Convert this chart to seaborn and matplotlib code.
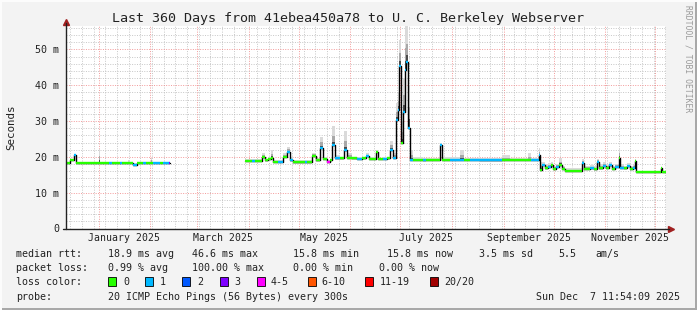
import numpy as np
import pandas as pd
import matplotlib
matplotlib.use("Agg")
import matplotlib.pyplot as plt
import matplotlib.dates as mdates
import matplotlib.transforms as mtrans
from matplotlib.patches import Rectangle
import seaborn as sns

# ---------------- data ----------------
START = pd.Timestamp("2024-12-12 11:54:09")
END = pd.Timestamp("2025-12-07 11:54:09")

# segment 1 (Dec 2024 - Feb 2025): days since START, median rtt (ms), loss class, smoke top (ms)
seg1_day = [0.0, 2.4, 4.8, 6.0, 19.8, 20.4, 25.8, 27.6, 32.4, 33.6, 37.2, 38.4, 40.2,
            42.6, 46.2, 48.0, 51.0, 51.6, 52.2, 56.4, 58.2, 61.8, 62.4]
seg1_median = [18.3, 19.1, 20.5, 18.3, 18.3, 18.3, 18.3, 18.3, 18.3, 18.3, 18.3, 18.3, 17.8,
               18.3, 18.3, 18.3, 18.3, 18.3, 18.3, 18.3, 18.3, 18.3, 18.3]
seg1_loss = [0, 0, 1, 0, 0, 0, 1, 0, 1, 0, 0, 0, 1,
             0, 1, 0, 0, 0, 1, 0, 1, 3, 3]
seg1_smoke = [18.7, 19.4, 20.8, 18.7, 22.1, 18.7, 18.7, 18.7, 18.7, 18.7, 19.0, 18.7, 18.2,
              18.7, 18.7, 18.7, 19.8, 18.7, 18.7, 18.7, 18.7, 18.7, 18.7]

# segment 2 (end of March 2025 - Dec 2025)
seg2_day = [107.4, 111.6, 113.4, 117.6, 119.4, 121.2, 123.0, 124.2, 127.2, 130.2, 132.6,
            134.4, 136.2, 143.4, 144.6, 147.6, 150.0, 152.4, 154.2, 156.6, 158.4, 159.6,
            161.4, 164.4, 166.8, 168.6, 171.6, 174.6, 177.6, 180.0, 181.8, 186.0, 187.2,
            190.2, 192.6, 194.4, 196.2, 198.0, 199.2, 199.8, 201.0, 202.2, 203.4, 204.0,
            205.2, 206.4, 208.2, 214.2, 216.0, 224.4, 225.6, 230.4, 236.4, 238.8, 242.4,
            248.4, 261.6, 266.4, 277.2, 279.0, 283.8, 284.4, 285.6, 287.4, 289.2, 291.0,
            292.2, 294.0, 295.8, 297.6, 299.4, 309.6, 310.8, 314.4, 316.8, 318.6, 319.8,
            322.2, 324.0, 325.8, 327.6, 329.4, 331.8, 332.4, 334.8, 336.6, 338.4, 340.2,
            341.4, 342.0, 357.0, 357.6, 360.0]
seg2_median = [18.8, 18.9, 18.8, 19.9, 19.0, 19.4, 19.7, 18.6, 18.6, 20.0, 21.5,
               19.0, 18.5, 18.5, 18.5, 20.3, 19.0, 22.5, 19.5, 18.6, 19.0, 23.2,
               19.6, 19.6, 21.8, 19.8, 19.6, 19.5, 19.6, 20.2, 19.5, 21.5, 19.4,
               19.4, 19.6, 22.0, 19.8, 30.3, 33.1, 45.4, 23.9, 32.6, 44.3, 46.6,
               28.1, 19.2, 19.1, 19.0, 19.1, 23.3, 19.1, 19.1, 19.1, 19.1, 19.1,
               19.0, 19.1, 19.1, 19.1, 19.1, 20.5, 16.4, 17.8, 16.8, 17.2, 17.6,
               16.6, 17.3, 17.8, 16.6, 16.1, 18.3, 16.6, 16.8, 16.5, 18.7, 16.8,
               17.5, 16.9, 17.6, 16.6, 17.2, 19.6, 17.0, 16.8, 17.4, 16.7, 17.0,
               18.9, 15.8, 16.9, 15.8, 15.8]
seg2_loss = [0, 1, 0, 0, 0, 0, 0, 0, 1, 0, 1,
             1, 0, 1, 0, 0, 0, 1, 0, 4, 0, 1,
             1, 0, 1, 0, 0, 1, 0, 1, 0, 0, 0,
             1, 0, 1, 1, 1, 1, 1, 0, 1, 1, 1,
             1, 1, 0, 1, 0, 1, 0, 1, 1, 0, 1,
             1, 0, 0, 0, 1, 1, 0, 1, 0, 1, 0,
             0, 1, 0, 0, 0, 1, 0, 1, 0, 1, 0,
             1, 0, 1, 0, 1, 0, 1, 0, 1, 0, 1,
             0, 0, 0, 0, 0]
seg2_smoke = [19.3, 19.4, 19.3, 21.0, 19.5, 20.0, 22.0, 19.0, 19.0, 21.0, 22.8,
              20.0, 19.0, 19.0, 19.0, 21.2, 19.6, 25.6, 20.0, 19.0, 19.5, 28.7,
              20.5, 20.0, 27.3, 21.0, 20.0, 20.0, 20.0, 21.0, 20.0, 22.0, 19.8,
              20.0, 20.0, 24.5, 21.0, 35.0, 38.0, 52.7, 30.0, 42.0, 56.5, 56.5,
              40.0, 22.0, 20.0, 19.8, 19.8, 24.0, 20.0, 20.0, 22.0, 19.8, 19.8,
              19.8, 20.5, 19.8, 21.0, 19.8, 22.4, 18.5, 18.5, 18.0, 18.3, 18.5,
              17.5, 18.0, 19.6, 17.5, 16.8, 19.5, 17.5, 17.8, 17.5, 19.5, 18.0,
              18.5, 18.0, 18.5, 17.5, 18.0, 22.4, 18.0, 17.5, 18.2, 17.5, 17.8,
              19.5, 16.2, 17.2, 16.2, 16.2]

loss_labels = ["0", "1", "2", "3", "4-5", "6-10", "11-19", "20/20"]
loss_colors = ["#26ff00", "#00b8ff", "#0059ff", "#7e00ff", "#ff00ff", "#ff5500", "#ff0000", "#a10000"]

y_ticks = [0, 10, 20, 30, 40, 50]
y_tick_labels = ["0", "10 m", "20 m", "30 m", "40 m", "50 m"]
x_label_months = ["2025-01-01", "2025-03-01", "2025-05-01", "2025-07-01", "2025-09-01", "2025-11-01"]
x_label_texts = ["January 2025", "March 2025", "May 2025", "July 2025", "September 2025", "November 2025"]

title = "Last 360 Days from 41ebea450a78 to U. C. Berkeley Webserver"
stats_rtt = ["median rtt:", "18.9 ms avg", "46.6 ms max", "15.8 ms min", "15.8 ms now", "3.5 ms sd", "5.5", "am/s"]
stats_loss = ["packet loss:", "0.99 % avg", "100.00 % max", "0.00 % min", "0.00 % now"]
probe_text = "20 ICMP Echo Pings (56 Bytes) every 300s"
stamp_text = "Sun Dec  7 11:54:09 2025"

# ---------------- figure ----------------
sns.set_style("white")
plt.rcParams["font.family"] = ["DejaVu Sans Mono", "DejaVu Sans"]

W, H = 697, 310
fig = plt.figure(figsize=(W / 100, H / 100), dpi=100, facecolor="#f3f3f3")

def fx(px):
    return px / W

def fy(py):
    return 1 - py / H

ax_l, ax_r, ax_t, ax_b = 66, 666, 26, 228.5
ax = fig.add_axes([fx(ax_l), fy(ax_b), (ax_r - ax_l) / W, (ax_b - ax_t) / H])
ax.set_facecolor("white")

frames = []
for sid, (d, m, l, s) in enumerate([(seg1_day, seg1_median, seg1_loss, seg1_smoke),
                                    (seg2_day, seg2_median, seg2_loss, seg2_smoke)]):
    frames.append(pd.DataFrame({"time": START + pd.to_timedelta(d, unit="D"),
                                "median": m, "loss": l, "smoke": s, "seg": sid}))
df = pd.concat(frames, ignore_index=True)

# smoke
for sid, g in df.groupby("seg"):
    t = g["time"].values
    m = g["median"].values
    s = g["smoke"].values
    ax.fill_between(t, m - 0.35, s, step="post", color="#dadada", lw=0, zorder=1)
    ax.fill_between(t, m - 0.25, m + 0.5 * (s - m), step="post", color="#a8a8a8", lw=0, zorder=1.1)
    ax.fill_between(t, m - 0.15, m + 0.2 * (s - m), step="post", color="#4a4a4a", lw=0, zorder=1.2)

# median step line (black) via seaborn
sns.lineplot(data=df, x="time", y="median", units="seg", estimator=None,
             drawstyle="steps-post", color="black", lw=1.0, ax=ax, legend=False, zorder=2)

# loss-coloured median segments
for sid, g in df.groupby("seg"):
    t = mdates.date2num(g["time"].dt.to_pydatetime())
    m = g["median"].values
    l = g["loss"].values
    ax.hlines(m[:-1], t[:-1], t[1:], colors=[loss_colors[k] for k in l[:-1]], lw=1.7, zorder=3)

ax.set_xlim(START, END)
ax.set_ylim(0, (ax_b - ax_t) / 3.58)

# grid
ax.xaxis.set_major_locator(mdates.MonthLocator())
ax.xaxis.set_minor_locator(mdates.WeekdayLocator(byweekday=mdates.SU))
ax.yaxis.set_major_locator(matplotlib.ticker.FixedLocator(y_ticks))
ax.yaxis.set_minor_locator(matplotlib.ticker.MultipleLocator(2))
ax.set_axisbelow(True)
ax.grid(which="major", color="#f08080", lw=0.7, ls=(0, (1, 1.5)), alpha=0.8)
ax.grid(which="minor", color="#b8b8b8", lw=0.7, ls=(0, (1, 1.5)), alpha=0.8)
ax.set_xticklabels([])
ax.set_yticklabels(y_tick_labels, fontsize=7.2, color="#222222")
ax.tick_params(axis="x", which="major", length=3, color="#e06060", direction="out", labelbottom=False)
ax.tick_params(axis="x", which="minor", length=2, color="#999999", direction="out")
ax.tick_params(axis="y", which="major", length=3, color="#333333", direction="out", pad=2)
ax.tick_params(axis="y", which="minor", length=0)
ax.set_xlabel("")
ax.set_ylabel("")
for sp in ax.spines.values():
    sp.set_visible(False)

# axes lines + arrows
ax.plot([0, 0], [0, 1 + 3 / (ax_b - ax_t)], transform=ax.transAxes, color="#222222", lw=1, clip_on=False, zorder=5)
ax.plot([-3 / 600, 1 + 3 / 600], [0, 0], transform=ax.transAxes, color="#222222", lw=1, clip_on=False, zorder=5)
ax.plot([0], [1 + 4.5 / (ax_b - ax_t)], marker="^", ms=5, color="#a02020", transform=ax.transAxes, clip_on=False)
ax.plot([1 + 4.5 / 600], [0], marker=">", ms=5, color="#a02020", transform=ax.transAxes, clip_on=False)

# month labels centred on the month
trans = mtrans.blended_transform_factory(ax.transData, fig.transFigure)
for mstart, txt in zip(x_label_months, x_label_texts):
    ms = pd.Timestamp(mstart)
    mid = ms + (ms + pd.offsets.MonthBegin(1) - ms) / 2
    ax.text(mid, fy(237.7), txt, transform=trans, ha="center", va="center", fontsize=7.1, color="#222222")

# titles
fig.text(0.5, fy(18.5), title, ha="center", va="center", fontsize=9.6, color="#222222")
fig.text(fx(11), fy(127), "Seconds", rotation=90, ha="center", va="center", fontsize=7.8, color="#222222")
fig.text(fx(688), fy(5), "RRDTOOL / TOBI OETIKER", rotation=270, ha="center", va="top", fontsize=5.8, color="#9a9a9a")

# legend rows
lfs = 7.2
row_rtt_x = [16, 107.6, 192, 293, 386.7, 479, 558, 595.6]
for x, s in zip(row_rtt_x, stats_rtt):
    fig.text(fx(x), fy(254.3), s, ha="left", va="center", fontsize=lfs, color="#222222")
row_loss_x = [16, 107.6, 192, 293, 379]
for x, s in zip(row_loss_x, stats_loss):
    fig.text(fx(x), fy(268.3), s, ha="left", va="center", fontsize=lfs, color="#222222")
fig.text(fx(16), fy(282), "loss color:", ha="left", va="center", fontsize=lfs, color="#222222")
box_x = [108, 145.3, 182, 219.6, 257, 307.6, 365, 430]
lab_x = [123.6, 160, 197, 234, 271, 321, 380, 444]
for bx, lx, c, lab in zip(box_x, lab_x, loss_colors, loss_labels):
    fig.add_artist(Rectangle((fx(bx), fy(286)), 8 / W, 9 / H, transform=fig.transFigure,
                             facecolor=c, edgecolor="black", lw=0.6))
    fig.text(fx(lx), fy(282), lab, ha="left", va="center", fontsize=lfs, color="#222222")
fig.text(fx(16), fy(296.5), "probe:", ha="left", va="center", fontsize=lfs, color="#222222")
fig.text(fx(107.6), fy(296.5), probe_text, ha="left", va="center", fontsize=lfs, color="#222222")
fig.text(fx(680), fy(296.5), stamp_text, ha="right", va="center", fontsize=lfs, color="#222222")

# frame shading
fig.add_artist(Rectangle((0, 0), 1, 2.5 / H, transform=fig.transFigure, facecolor="#a8a8a8", lw=0))
fig.add_artist(Rectangle((1 - 2.5 / W, 0), 2.5 / W, 1, transform=fig.transFigure, facecolor="#a8a8a8", lw=0))
fig.add_artist(Rectangle((0, 1 - 2 / H), 1, 2 / H, transform=fig.transFigure, facecolor="#fcfcfc", lw=0))
fig.add_artist(Rectangle((0, 0), 2 / W, 1, transform=fig.transFigure, facecolor="#fcfcfc", lw=0))

fig.savefig("out.png", dpi=100, facecolor=fig.get_facecolor())
